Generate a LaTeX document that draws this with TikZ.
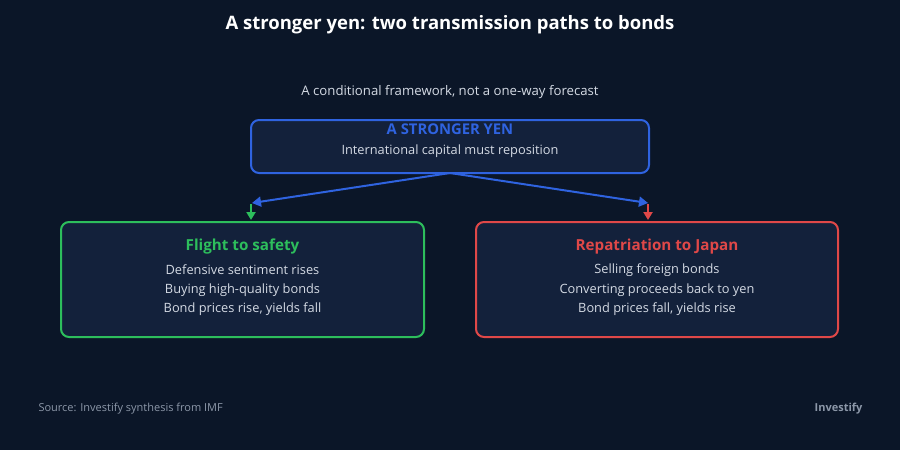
\documentclass[tikz,border=0pt]{standalone}
\usepackage{fontspec}
\setmainfont{Open Sans}
\usetikzlibrary{arrows.meta}
\definecolor{bg}{HTML}{0B1628}
\definecolor{boxbg}{HTML}{13213B}
\definecolor{cblue}{HTML}{2F63E0}
\definecolor{cgreen}{HTML}{2DBE5C}
\definecolor{cred}{HTML}{E04848}
\definecolor{ctext}{HTML}{D4DAE4}
\definecolor{cgray}{HTML}{8C97A8}
\begin{document}
\begin{tikzpicture}[x=1pt,y=-1pt,
  box/.style={draw,line width=2pt,rounded corners=8pt,fill=boxbg},
  body/.style={text=ctext,font=\fontsize{12.8}{15}\selectfont},
  arr/.style={line width=2pt,-{Triangle[length=9pt,width=10pt]}}]
\fill[bg] (0,0) rectangle (900,450);
\useasboundingbox (0,0) rectangle (900,450);
\node[text=white,font=\bfseries\fontsize{18.5}{22}\selectfont] (title) at (450,25) {A stronger yen: two transmission paths to bonds};
\node[text=ctext,font=\fontsize{13.2}{16}\selectfont] (sub) at (450,92) {A conditional framework, not a one-way forecast};
\draw[box,draw=cblue] (251,120) rectangle (649,173);
\coordinate (top) at (450,173);
\node[text=cblue,font=\bfseries\fontsize{14.8}{17}\selectfont] (t1) at (450,129) {A STRONGER YEN};
\node[body] (t2) at (450,151) {International capital must reposition};
\draw[box,draw=cgreen] (61,222) rectangle (424,337);
\node[text=cgreen,font=\bfseries\fontsize{15.2}{18}\selectfont] (g0) at (242.5,247) {Flight to safety};
\node[body] (g1) at (242.5,270) {Defensive sentiment rises};
\node[body] (g2) at (242.5,290) {Buying high-quality bonds};
\node[body] (g3) at (242.5,309) {Bond prices rise, yields fall};
\draw[box,draw=cred] (476,222) rectangle (838,337);
\node[text=cred,font=\bfseries\fontsize{15.2}{18}\selectfont] (r0) at (657,247) {Repatriation to Japan};
\node[body] (r1) at (657,270) {Selling foreign bonds};
\node[body] (r2) at (657,290) {Converting proceeds back to yen};
\node[body] (r3) at (657,309) {Bond prices fall, yields rise};
\coordinate (la) at (252,203); \coordinate (ra) at (648,203);
\draw[arr,cblue] (top) -- (la);
\draw[arr,cblue] (top) -- (ra);
\coordinate (gs) at (251,204); \coordinate (ge) at (251,220);
\coordinate (rs) at (648,204); \coordinate (re) at (648,220);
\draw[line width=2pt,cgreen,-{Triangle[length=8pt,width=9pt]}] (gs) -- (ge);
\draw[line width=2pt,cred,-{Triangle[length=8pt,width=9pt]}] (rs) -- (re);
\node[anchor=west,text=cgray,font=\fontsize{11}{13}\selectfont] (src) at (35,409) {Source: Investify synthesis from IMF};
\node[anchor=east,text=cgray,font=\bfseries\fontsize{11}{13}\selectfont] (brand) at (866,409) {Investify};
\end{tikzpicture}
\end{document}
